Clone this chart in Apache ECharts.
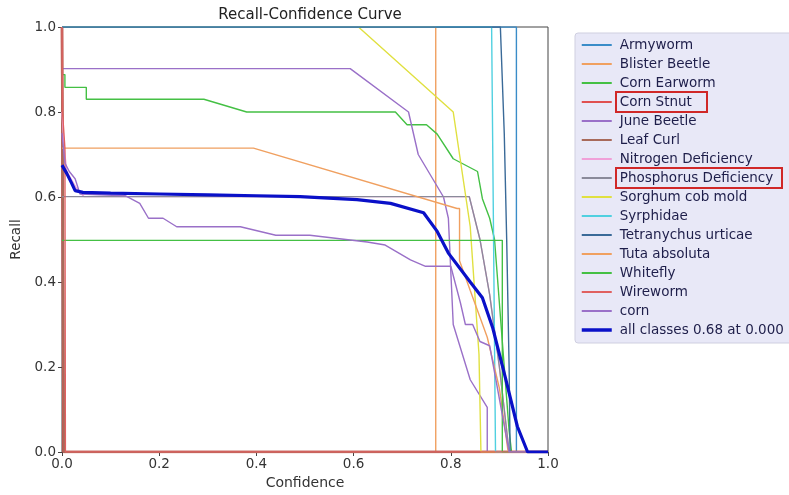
<!DOCTYPE html>
<html><head><meta charset="utf-8">
<script src="https://cdn.jsdelivr.net/npm/echarts@6/dist/echarts.min.js"></script>
<style>html,body{margin:0;padding:0;background:#fff}#c{width:789px;height:495px}</style>
</head><body><div id="c"></div>
<script>
const xTicks = [0, 0.2, 0.4, 0.6, 0.8, 1.0];
const yTicks = [0, 0.2, 0.4, 0.6, 0.8, 1.0];
const classNames = ["Armyworm","Blister Beetle","Corn Earworm","Corn Stnut","June Beetle","Leaf Curl","Nitrogen Deficiency","Phosphorus Deficiency","Sorghum cob mold","Syrphidae","Tetranychus urticae","Tuta absoluta","Whitefly","Wireworm","corn"];
const allName = "all classes 0.68 at 0.000";

const armyworm = [[0,1],[0.935,1],[0.935,0],[1,0]];
const blisterBeetle = [[0,1],[0.769,1],[0.769,0],[1,0]];
const cornEarworm = [[0,0.888],[0.006,0.888],[0.006,0.858],[0.05,0.858],[0.05,0.83],[0.292,0.83],[0.38,0.80],[0.686,0.80],[0.71,0.77],[0.75,0.77],[0.772,0.748],[0.805,0.69],[0.855,0.66],[0.865,0.596],[0.88,0.55],[0.89,0.5],[0.9,0.35],[0.91,0.2],[0.92,0.05],[0.925,0],[1,0]];
const cornStnut = [[0,1],[0.002,1],[0.003,0],[1,0]];
const juneBeetle = [[0,0.902],[0.593,0.902],[0.713,0.80],[0.733,0.70],[0.785,0.60],[0.795,0.55],[0.805,0.30],[0.84,0.17],[0.875,0.105],[0.875,0],[1,0]];
const leafCurl = [[0,1],[0.004,1],[0.004,0],[1,0]];
const nitrogenDeficiency = [[0,0.80],[0.004,0.72],[0.01,0.66],[0.02,0.64],[0.03,0.62],[0.045,0.601],[0.838,0.601],[0.86,0.5],[0.88,0.37],[0.9,0.2],[0.915,0.05],[0.92,0],[1,0]];
const phosphorusDeficiency = [[0,0.601],[0.838,0.601],[0.86,0.5],[0.88,0.37],[0.9,0.2],[0.915,0.05],[0.92,0],[1,0]];
const sorghumCobMold = [[0.61,1],[0.805,0.80],[0.84,0.53],[0.858,0.23],[0.862,0],[1,0]];
const syrphidae = [[0,1],[0.884,1],[0.892,0],[1,0]];
const tetranychusUrticae = [[0,1],[0.902,1],[0.91,0.75],[0.915,0.5],[0.92,0.2],[0.922,0],[1,0]];
const tutaAbsoluta = [[0,0.715],[0.394,0.715],[0.813,0.573],[0.818,0.573],[0.818,0.45],[0.84,0.38],[0.875,0.27],[0.9,0.15],[0.918,0],[1,0]];
const whitefly = [[0,0.498],[0.906,0.498],[0.906,0],[1,0]];
const wireworm = [[0,1],[0.001,0.80],[0.006,0.715],[0.007,0],[1,0]];
const corn = [[0,0.75],[0.006,0.68],[0.015,0.66],[0.027,0.643],[0.037,0.607],[0.13,0.603],[0.16,0.585],[0.178,0.55],[0.208,0.55],[0.236,0.53],[0.367,0.53],[0.44,0.51],[0.51,0.51],[0.628,0.494],[0.665,0.487],[0.717,0.452],[0.748,0.437],[0.80,0.437],[0.82,0.35],[0.83,0.30],[0.845,0.30],[0.86,0.26],[0.88,0.25],[0.92,0],[1,0]];
const allClasses = [[0,0.675],[0.01,0.655],[0.02,0.632],[0.027,0.615],[0.043,0.611],[0.1,0.609],[0.2,0.607],[0.3,0.605],[0.4,0.603],[0.49,0.601],[0.607,0.594],[0.676,0.585],[0.744,0.563],[0.772,0.519],[0.795,0.468],[0.84,0.40],[0.865,0.363],[0.886,0.293],[0.912,0.176],[0.937,0.06],[0.958,0],[1,0]];

const classData = [armyworm,blisterBeetle,cornEarworm,cornStnut,juneBeetle,leafCurl,nitrogenDeficiency,phosphorusDeficiency,sorghumCobMold,syrphidae,tetranychusUrticae,tutaAbsoluta,whitefly,wireworm,corn];
const colors = ["#3a8cc8","#f0a060","#44c044","#e05050","#9a70c8","#a86a5a","#f0a0d8","#8a8a9a","#e0e040","#50d0e0","#3a6a98","#f0a060","#44c044","#e06060","#9a70c8"];
const widths = [1.4,1.4,1.4,2.5,1.4,2.5,1.4,1.4,1.4,1.4,1.4,1.4,1.4,1.4,1.4];

const series = classNames.map((n,i)=>({
  name:n, type:'line', data:classData[i], symbol:'none', showSymbol:false,
  lineStyle:{width:widths[i],color:colors[i]}, itemStyle:{color:colors[i]}, z:2
}));
series.push({name:allName,type:'line',data:allClasses,symbol:'none',showSymbol:false,
  lineStyle:{width:3.2,color:'#0a10c8'},itemStyle:{color:'#0a10c8'},z:5});

const legendData = classNames.map(n=>({name:n,lineStyle:{width:2}}));
legendData.push({name:allName,lineStyle:{width:3.5}});

const chart = echarts.init(document.getElementById('c'),null,{renderer:'canvas'});
const font = "DejaVu Sans";
chart.setOption({
  animation:false,
  title:{text:'Recall-Confidence Curve',left:305,top:3,textAlign:'center',
    textStyle:{fontFamily:font,fontSize:15,fontWeight:'normal',color:'#222'}},
  grid:{left:62,right:241,top:27,bottom:39,show:true,borderColor:'#444',borderWidth:1},
  xAxis:{type:'value',min:0,max:1,interval:0.2,name:'Confidence',nameLocation:'middle',nameGap:24,
    nameTextStyle:{fontFamily:font,fontSize:14,color:'#333'},
    axisLine:{show:true,lineStyle:{color:'#444'}},axisTick:{show:true,length:4,lineStyle:{color:'#444'}},
    splitLine:{show:false},
    axisLabel:{fontFamily:font,fontSize:13.5,color:'#333',margin:5,formatter:v=>v.toFixed(1)}},
  yAxis:{type:'value',min:0,max:1,interval:0.2,name:'Recall',nameLocation:'middle',nameGap:39,
    nameTextStyle:{fontFamily:font,fontSize:13.5,color:'#333'},
    axisLine:{show:true,lineStyle:{color:'#444'}},axisTick:{show:true,length:4,lineStyle:{color:'#444'}},
    splitLine:{show:false},
    axisLabel:{fontFamily:font,fontSize:13.5,color:'#333',margin:6,formatter:v=>v.toFixed(1)}},
  legend:{orient:'vertical',left:575,top:33,padding:[5,20,6,5],itemWidth:30,itemHeight:14,itemGap:5,
    backgroundColor:'#e8e8f7',borderColor:'#cfcfe0',borderWidth:1,borderRadius:3,
    itemStyle:{opacity:0,borderWidth:0},lineStyle:{width:2},
    textStyle:{fontFamily:font,fontSize:13.5,color:'#1e1e4a',padding:[0,0,0,3]},
    data:legendData},
  graphic:[
    {type:'rect',shape:{x:616,y:92,width:91,height:20},style:{fill:'none',stroke:'#d02828',lineWidth:2},z:100},
    {type:'rect',shape:{x:616,y:168,width:166,height:20},style:{fill:'none',stroke:'#d02828',lineWidth:2},z:100}
  ],
  series:series
});
</script></body></html>
